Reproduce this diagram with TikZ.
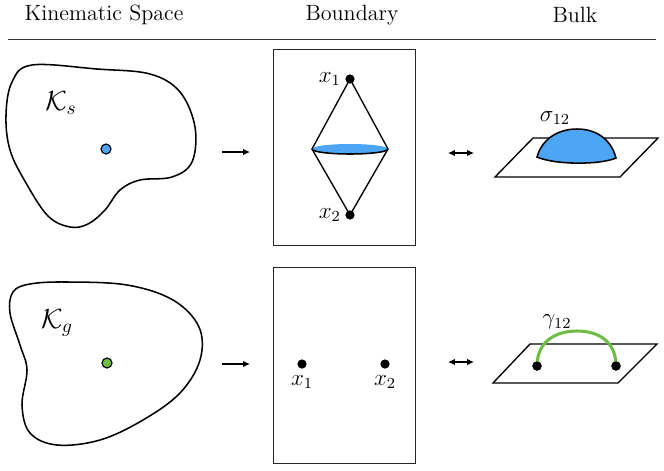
\documentclass[tikz,border=0pt]{standalone}
\usetikzlibrary{positioning,arrows.meta,calc}
\definecolor{ksblue}{RGB}{77,166,245}
\definecolor{kggreen}{RGB}{110,190,70}
\tikzset{
  hdr/.style   ={font=\fontsize{11.5}{14}\selectfont, inner sep=0pt},
  blob/.style  ={draw=black, line width=0.8pt},
  kpt/.style   ={circle, draw=black, line width=0.6pt, inner sep=0pt, minimum size=5.2pt},
  bpt/.style   ={circle, fill=black, inner sep=0pt, minimum size=4.8pt},
  frm/.style   ={draw=black!85, line width=0.5pt},
  lbl/.style   ={font=\fontsize{12}{14}\selectfont, inner sep=1pt},
  klbl/.style  ={font=\fontsize{14.5}{17}\selectfont, inner sep=0pt},
  fl/.style    ={-{Latex[length=3.6pt,width=3.4pt]}, line width=0.6pt},
  flb/.style   ={{Latex[length=3.6pt,width=3.4pt]}-{Latex[length=3.6pt,width=3.4pt]}, line width=0.6pt},
  sheet/.style ={draw=black, line width=0.7pt, fill=white}
}

\begin{document}
\begin{tikzpicture}[x=0.52pt, y=-0.52pt]
  \useasboundingbox (0,0) rectangle (664,470);

  % headers
  \node[hdr] (hks) at (104,15) {Kinematic Space};
  \node[hdr] (hbd) at (352,15) {Boundary};
  \node[hdr] (hbk) at (575,15) {Bulk};
  \draw[line width=0.5pt, black!80] (8,39) -- (656,39);

  % top row: kinematic space
  \draw[blob] plot[smooth cycle, tension=0.6] coordinates
    {(32,65) (97,69) (150,74) (180,92) (195,127) (192,162) (172,177)
     (140,180) (120,190) (105,210) (88,224) (70,227) (48,216) (26,183)
     (10,150) (6,115) (12,82)};
  \node[klbl] (ks) at (61,103) {$\mathcal{K}_s$};
  \node[kpt, fill=ksblue] (ptS) at (106,149) {};

  \coordinate (aS1) at (222,152);
  \coordinate (aS2) at (250,152);
  \draw[fl] (aS1) -- (aS2);

  % top row: boundary
  \draw[frm] (273,49) rectangle (415,245);
  \coordinate (dl) at (312,149);
  \coordinate (dr) at (388,149);
  \fill[ksblue] (dl) .. controls (312,146.2) and (329,144) .. (350,144)
                .. controls (371,144) and (388,146.2) .. (dr)
                .. controls (388,151.8) and (371,154) .. (350,154)
                .. controls (329,154) and (312,151.8) .. (dl) -- cycle;
  \draw[line width=0.8pt] (dl) .. controls (312,151.8) and (329,154) .. (350,154)
                .. controls (371,154) and (388,151.8) .. (dr);
  \node[bpt] (x1t) at (350,79) {};
  \node[bpt] (x2t) at (350,215) {};
  \draw[line width=0.7pt] (x1t.center) -- (dl) -- (x2t.center) -- (dr) -- cycle;
  \node[lbl, left=1pt of x1t] (lx1t) {$x_1$};
  \node[lbl, left=1pt of x2t] (lx2t) {$x_2$};

  \coordinate (bS1) at (448,153);
  \coordinate (bS2) at (474,153);
  \draw[flb] (bS1) -- (bS2);

  % top row: bulk
  \coordinate (sA) at (533,138);
  \coordinate (sB) at (658,138);
  \coordinate (sC) at (620,177);
  \coordinate (sD) at (495,177);
  \draw[sheet] (sA) -- (sB) -- (sC) -- (sD) -- cycle;
  \draw[line width=0.8pt, fill=ksblue] (537,157) .. controls (542,139) and (558,129) .. (577,129)
        .. controls (596,129) and (611,139) .. (616,158)
        .. controls (600,165) and (555,165) .. (537,157) -- cycle;
  \node[lbl] (sig) at (555,118) {$\sigma_{12}$};

  % bottom row: kinematic space
  \draw[blob] plot[smooth cycle, tension=0.6] coordinates
    {(30,284) (67,282) (127,285) (173,300) (199,327) (200,360) (180,393)
     (143,420) (100,440) (57,445) (30,433) (22,405) (27,370) (20,345)
     (10,313) (13,292)};
  \node[klbl] (kg) at (57,323) {$\mathcal{K}_g$};
  \node[kpt, fill=kggreen] (ptG) at (107,363) {};

  \coordinate (aG1) at (222,364);
  \coordinate (aG2) at (250,364);
  \draw[fl] (aG1) -- (aG2);

  % bottom row: boundary
  \draw[frm] (273,267) rectangle (415,463);
  \node[bpt] (x1b) at (302,364) {};
  \node[bpt] (x2b) at (385,364) {};
  \node[lbl, below=2pt of x1b] (lx1b) {$x_1$};
  \node[lbl, below=2pt of x2b] (lx2b) {$x_2$};

  \coordinate (bG1) at (448,362);
  \coordinate (bG2) at (474,362);
  \draw[flb] (bG1) -- (bG2);

  % bottom row: bulk
  \coordinate (gA) at (530,344);
  \coordinate (gB) at (657,344);
  \coordinate (gC) at (618,383);
  \coordinate (gD) at (493,383);
  \draw[sheet] (gA) -- (gB) -- (gC) -- (gD) -- cycle;
  \node[bpt] (g1) at (537,366) {};
  \node[bpt] (g2) at (616,366) {};
  \draw[kggreen, line width=1.6pt] (g1.center) .. controls (537,342) and (555,331) .. (577,331)
        .. controls (599,331) and (616,342) .. (g2.center);
  \node[bpt] at (g1) {};
  \node[bpt] at (g2) {};
  \node[lbl] (gam) at (557,322) {$\gamma_{12}$};
\end{tikzpicture}
\end{document}
